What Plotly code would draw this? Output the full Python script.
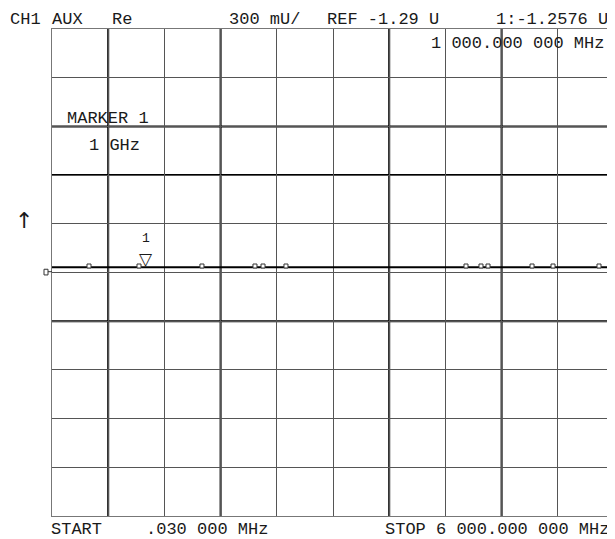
import plotly.graph_objects as go

# ---- data ----
start_mhz = 0.03
stop_mhz = 6000.0
ref_value = -1.29          # U
scale_per_div = 0.300      # U / div
n_div = 10

trace_freq_mhz = [0.03, 395, 929, 1000, 1601, 2167, 2253, 2498, 3000, 3500, 4000, 4420, 4580, 4655, 5125, 5349, 5840, 6000]
trace_value_u = [-1.2576, -1.2576, -1.2576, -1.2576, -1.2576, -1.2576, -1.2576, -1.2576, -1.2576, -1.2576,
                 -1.2576, -1.2576, -1.2576, -1.2576, -1.2576, -1.2576, -1.2576, -1.2576]

bump_freq_mhz = [395, 929, 1601, 2167, 2253, 2498, 4420, 4580, 4655, 5125, 5349, 5840]
bump_value_u = [-1.2500, -1.2500, -1.2500, -1.2500, -1.2500, -1.2500, -1.2500, -1.2500, -1.2500, -1.2500, -1.2500, -1.2500]

marker_freq_mhz = [1000]
marker_value_u = [-1.2576]

thick_vert_div = [1, 3, 6, 8]
thick_horiz_div = [2, 3, 6]   # counted from the top

header_texts = ["CH1", "AUX", "Re", "300 mU/", "REF -1.29 U", "1:-1.2576 U"]
footer_texts = ["START", ".030 000 MHz", "STOP 6 000.000 000 MHz"]
marker_readout = "1 000.000 000 MHz"
marker_label = ["MARKER 1", "1 GHz"]

# ---- layout geometry (page pixels; the page body has an 8px margin) ----
BODY = 8
W, H = 615 - BODY, 539 - BODY
L, R, T, B = 52, 614, 29, 516
pw, ph = R - L, B - T

def px(x):
    return (x - L) / pw

def py(y):
    return (B - y) / ph

y_lo = ref_value - scale_per_div * n_div / 2
y_hi = ref_value + scale_per_div * n_div / 2
x_step = (stop_mhz - start_mhz) / n_div

FONT = "Liberation Mono"
TXT = "#1a1a1a"

fig = go.Figure()
fig.add_trace(go.Scatter(x=trace_freq_mhz, y=trace_value_u, mode="lines",
                         line=dict(color="black", width=2), hoverinfo="skip", showlegend=False))
fig.add_trace(go.Scatter(x=bump_freq_mhz, y=bump_value_u, mode="markers",
                         marker=dict(symbol="square", size=4, color="white",
                                     line=dict(color="#333", width=1)),
                         hoverinfo="skip", showlegend=False))

shapes = []
for k in thick_vert_div:
    xv = start_mhz + k * x_step
    shapes.append(dict(type="line", xref="x", yref="paper", x0=xv, x1=xv, y0=0, y1=1,
                       line=dict(color="black", width=2), layer="below"))
for k in thick_horiz_div:
    yv = y_hi - k * scale_per_div
    shapes.append(dict(type="line", xref="paper", yref="y", x0=0, x1=1, y0=yv, y1=yv,
                       line=dict(color="black", width=2), layer="below"))
# reference position indicator on the left edge
shapes.append(dict(type="rect", xref="paper", yref="y", x0=px(44), x1=px(48),
                   y0=ref_value - 0.015, y1=ref_value + 0.02,
                   line=dict(color="#333", width=1), fillcolor="white"))
shapes.append(dict(type="line", xref="paper", yref="y", x0=px(48), x1=px(52),
                   y0=ref_value + 0.005, y1=ref_value + 0.005, line=dict(color="#333", width=1)))

ann = []
DY = 2.5
def txt(s, x, y, size=17):
    ann.append(dict(text=s, xref="paper", yref="paper", x=px(x), y=py(y + DY),
                    xanchor="left", yanchor="middle", showarrow=False, borderpad=0,
                    font=dict(family=FONT, size=size, color=TXT)))

hx = [9, 51, 111, 228, 326, 495]
for s, x in zip(header_texts, hx):
    txt(s, x, 16.5)
txt(marker_readout, 430, 41.5)
txt(marker_label[0], 66, 116)
txt(marker_label[1], 88, 143.5)
fx = [50, 145, 384]
for s, x in zip(footer_texts, fx):
    txt(s, x, 527)

ann.append(dict(text="↑", xref="paper", yref="paper", x=px(24), y=py(220),
                xanchor="center", yanchor="middle", showarrow=False,
                font=dict(family="DejaVu Sans", size=22, color=TXT)))
# marker 1 symbol
ann.append(dict(text="▽", xref="x", yref="y", x=marker_freq_mhz[0], y=marker_value_u[0],
                xanchor="center", yanchor="bottom", showarrow=False, yshift=-4,
                font=dict(family="DejaVu Sans", size=17, color=TXT)))
ann.append(dict(text="1", xref="x", yref="y", x=marker_freq_mhz[0], y=marker_value_u[0],
                xanchor="center", yanchor="bottom", showarrow=False, yshift=19,
                font=dict(family=FONT, size=13, color=TXT)))

fig.update_layout(
    width=W, height=H,
    margin=dict(l=L - BODY, r=W - (R - BODY), t=T - BODY, b=H - (B - BODY), pad=0),
    paper_bgcolor="white", plot_bgcolor="white",
    showlegend=False,
    shapes=shapes, annotations=ann,
    xaxis=dict(range=[start_mhz, stop_mhz], tick0=start_mhz, dtick=x_step,
               showgrid=True, gridcolor="#555", gridwidth=1, zeroline=False,
               showticklabels=False, ticks="", showline=True, linecolor="#777",
               linewidth=1, mirror=True, fixedrange=True),
    yaxis=dict(range=[y_lo, y_hi], tick0=ref_value, dtick=scale_per_div,
               showgrid=True, gridcolor="#555", gridwidth=1, zeroline=False,
               showticklabels=False, ticks="", showline=True, linecolor="#777",
               linewidth=1, mirror=True, fixedrange=True),
)

fig.write_html("out.html")
